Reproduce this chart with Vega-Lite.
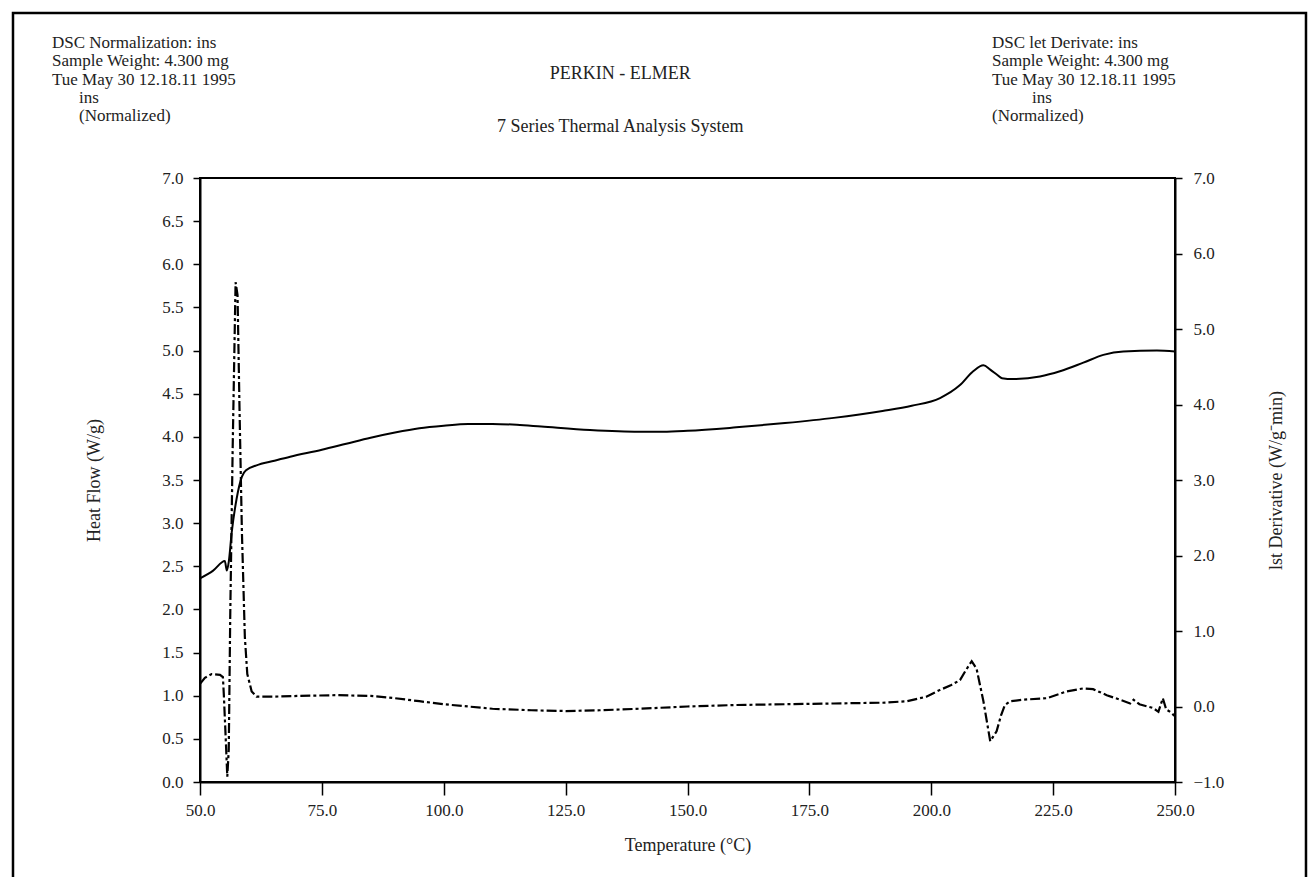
{
  "$schema": "https://vega.github.io/schema/vega-lite/v6.json",
  "width": 975,
  "height": 604,
  "autosize": {"type": "none"},
  "padding": {"left": 200, "top": 178, "right": 136, "bottom": 95},
  "background": "white",
  "config": {
    "view": {"stroke": "black", "strokeWidth": 2},
    "text": {"font": "Liberation Serif", "fontSize": 17, "color": "#222", "baseline": "middle"},
    "axis": {
      "labelFont": "Liberation Serif", "labelFontSize": 17, "labelColor": "#222",
      "titleFont": "Liberation Serif", "titleFontSize": 18, "titleFontWeight": "normal", "titleColor": "#222",
      "tickColor": "black", "domainColor": "black", "grid": false, "tickWidth": 1.5, "domainWidth": 2,
      "labelFlush": false, "labelOverlap": false
    }
  },
  "datasets": {
    "heat": [
      {"temperature": 50, "heat_flow": 2.36},
      {"temperature": 52.7, "heat_flow": 2.45},
      {"temperature": 55.1, "heat_flow": 2.56},
      {"temperature": 55.5, "heat_flow": 2.45},
      {"temperature": 55.9, "heat_flow": 2.55},
      {"temperature": 56.5, "heat_flow": 2.89},
      {"temperature": 57.5, "heat_flow": 3.28},
      {"temperature": 58.6, "heat_flow": 3.54},
      {"temperature": 59.6, "heat_flow": 3.62},
      {"temperature": 61.6, "heat_flow": 3.67},
      {"temperature": 65, "heat_flow": 3.72},
      {"temperature": 68.5, "heat_flow": 3.77},
      {"temperature": 75, "heat_flow": 3.85},
      {"temperature": 80, "heat_flow": 3.92},
      {"temperature": 85, "heat_flow": 3.99},
      {"temperature": 90, "heat_flow": 4.05},
      {"temperature": 95, "heat_flow": 4.1},
      {"temperature": 100, "heat_flow": 4.13},
      {"temperature": 105, "heat_flow": 4.15},
      {"temperature": 110, "heat_flow": 4.15},
      {"temperature": 115, "heat_flow": 4.14},
      {"temperature": 120, "heat_flow": 4.12},
      {"temperature": 130, "heat_flow": 4.08},
      {"temperature": 140, "heat_flow": 4.06},
      {"temperature": 145, "heat_flow": 4.06},
      {"temperature": 150, "heat_flow": 4.07},
      {"temperature": 160, "heat_flow": 4.11},
      {"temperature": 170, "heat_flow": 4.16},
      {"temperature": 180, "heat_flow": 4.22},
      {"temperature": 190, "heat_flow": 4.3},
      {"temperature": 196, "heat_flow": 4.36},
      {"temperature": 201.8, "heat_flow": 4.45},
      {"temperature": 205.9, "heat_flow": 4.6},
      {"temperature": 208.6, "heat_flow": 4.76},
      {"temperature": 210.7, "heat_flow": 4.83},
      {"temperature": 212.1, "heat_flow": 4.78},
      {"temperature": 213.5, "heat_flow": 4.72},
      {"temperature": 214.5, "heat_flow": 4.68},
      {"temperature": 216.8, "heat_flow": 4.67},
      {"temperature": 222.3, "heat_flow": 4.7},
      {"temperature": 226.4, "heat_flow": 4.76},
      {"temperature": 231.2, "heat_flow": 4.86},
      {"temperature": 235.3, "heat_flow": 4.95},
      {"temperature": 239.4, "heat_flow": 4.99},
      {"temperature": 246.3, "heat_flow": 5.0},
      {"temperature": 250, "heat_flow": 4.99}
    ],
    "deriv": [
      {"temperature": 50, "derivative": 0.3},
      {"temperature": 51, "derivative": 0.38},
      {"temperature": 52.4, "derivative": 0.43},
      {"temperature": 54.1, "derivative": 0.42},
      {"temperature": 54.7, "derivative": 0.39},
      {"temperature": 54.9, "derivative": 0.14},
      {"temperature": 55.3, "derivative": -0.46},
      {"temperature": 55.6, "derivative": -0.93},
      {"temperature": 55.9, "derivative": -0.57},
      {"temperature": 56.2, "derivative": 1.19},
      {"temperature": 56.7, "derivative": 3.41},
      {"temperature": 57.3, "derivative": 5.62},
      {"temperature": 57.7, "derivative": 5.45},
      {"temperature": 58.1, "derivative": 3.96},
      {"temperature": 58.6, "derivative": 2.3},
      {"temperature": 59.2, "derivative": 0.92},
      {"temperature": 59.7, "derivative": 0.43},
      {"temperature": 60.6, "derivative": 0.2},
      {"temperature": 61.6, "derivative": 0.13},
      {"temperature": 65, "derivative": 0.13},
      {"temperature": 70, "derivative": 0.14},
      {"temperature": 78, "derivative": 0.15},
      {"temperature": 85, "derivative": 0.14},
      {"temperature": 90, "derivative": 0.11},
      {"temperature": 95, "derivative": 0.07},
      {"temperature": 100, "derivative": 0.03},
      {"temperature": 105, "derivative": 0.0},
      {"temperature": 110, "derivative": -0.03},
      {"temperature": 118, "derivative": -0.05},
      {"temperature": 125, "derivative": -0.06},
      {"temperature": 132, "derivative": -0.05},
      {"temperature": 140, "derivative": -0.03},
      {"temperature": 150, "derivative": 0.0},
      {"temperature": 160, "derivative": 0.02},
      {"temperature": 170, "derivative": 0.03},
      {"temperature": 180, "derivative": 0.04},
      {"temperature": 190, "derivative": 0.05},
      {"temperature": 195, "derivative": 0.07},
      {"temperature": 199, "derivative": 0.13},
      {"temperature": 201.8, "derivative": 0.22},
      {"temperature": 204, "derivative": 0.28},
      {"temperature": 205.9, "derivative": 0.35},
      {"temperature": 207, "derivative": 0.47},
      {"temperature": 208.3, "derivative": 0.6},
      {"temperature": 209.3, "derivative": 0.5},
      {"temperature": 210.7, "derivative": 0.07},
      {"temperature": 212.1, "derivative": -0.46},
      {"temperature": 213.4, "derivative": -0.33},
      {"temperature": 214.3, "derivative": -0.12},
      {"temperature": 215.1, "derivative": 0.02},
      {"temperature": 216.2, "derivative": 0.07},
      {"temperature": 218.9, "derivative": 0.09},
      {"temperature": 223.7, "derivative": 0.11},
      {"temperature": 227.8, "derivative": 0.2},
      {"temperature": 231.2, "derivative": 0.24},
      {"temperature": 233.2, "derivative": 0.23},
      {"temperature": 236, "derivative": 0.15},
      {"temperature": 238.7, "derivative": 0.09},
      {"temperature": 240.8, "derivative": 0.04},
      {"temperature": 241.5, "derivative": 0.09},
      {"temperature": 242.7, "derivative": 0.03},
      {"temperature": 245.5, "derivative": -0.02},
      {"temperature": 246.6, "derivative": -0.07},
      {"temperature": 247.5, "derivative": 0.11},
      {"temperature": 248.2, "derivative": -0.04},
      {"temperature": 249, "derivative": -0.07},
      {"temperature": 250, "derivative": -0.13}
    ]
  },
  "layer": [
    {
      "layer": [
        {
          "data": {"name": "heat"},
          "mark": {"type": "line", "color": "black", "strokeWidth": 2, "interpolate": "monotone"},
          "encoding": {
            "x": {
              "field": "temperature", "type": "quantitative",
              "scale": {"domain": [50, 250], "nice": false, "zero": false},
              "axis": {"title": "Temperature (°C)", "values": [50, 75, 100, 125, 150, 175, 200, 225, 250], "format": ".1f", "tickSize": 13, "labelPadding": 7, "titlePadding": 18}
            },
            "y": {
              "field": "heat_flow", "type": "quantitative",
              "scale": {"domain": [0, 7], "nice": false, "zero": false},
              "axis": {"title": "Heat Flow (W/g)", "values": [0, 0.5, 1, 1.5, 2, 2.5, 3, 3.5, 4, 4.5, 5, 5.5, 6, 6.5, 7], "format": ".1f", "tickSize": 7, "labelPadding": 10, "titlePadding": 58}
            }
          }
        },
        {
          "data": {"values": [{}]},
          "mark": {"type": "rect", "filled": false, "stroke": "black", "strokeWidth": 2.5},
          "encoding": {"x": {"datum": 11.64}, "x2": {"datum": 276.87}, "y": {"datum": 8.912}, "y2": {"datum": -1.4}}
        },
        {
          "data": {"values": [{}]},
          "mark": {"type": "text", "text": "DSC Normalization: ins", "align": "left"},
          "encoding": {"x": {"datum": 19.64}, "y": {"datum": 8.564}}
        },
        {
          "data": {"values": [{}]},
          "mark": {"type": "text", "text": "Sample Weight: 4.300 mg", "align": "left"},
          "encoding": {"x": {"datum": 19.64}, "y": {"datum": 8.352}}
        },
        {
          "data": {"values": [{}]},
          "mark": {"type": "text", "text": "Tue May 30 12.18.11 1995", "align": "left"},
          "encoding": {"x": {"datum": 19.64}, "y": {"datum": 8.14}}
        },
        {
          "data": {"values": [{}]},
          "mark": {"type": "text", "text": "ins", "align": "left"},
          "encoding": {"x": {"datum": 25.18}, "y": {"datum": 7.928}}
        },
        {
          "data": {"values": [{}]},
          "mark": {"type": "text", "text": "(Normalized)", "align": "left"},
          "encoding": {"x": {"datum": 25.18}, "y": {"datum": 7.716}}
        },
        {
          "data": {"values": [{}]},
          "mark": {"type": "text", "text": "PERKIN - ELMER", "align": "center", "fontSize": 18},
          "encoding": {"x": {"datum": 136.2}, "y": {"datum": 8.2}}
        },
        {
          "data": {"values": [{}]},
          "mark": {"type": "text", "text": "7 Series Thermal Analysis System", "align": "center", "fontSize": 18},
          "encoding": {"x": {"datum": 136.2}, "y": {"datum": 7.59}}
        },
        {
          "data": {"values": [{}]},
          "mark": {"type": "text", "text": "DSC let Derivate: ins", "align": "left"},
          "encoding": {"x": {"datum": 212.46}, "y": {"datum": 8.564}}
        },
        {
          "data": {"values": [{}]},
          "mark": {"type": "text", "text": "Sample Weight: 4.300 mg", "align": "left"},
          "encoding": {"x": {"datum": 212.46}, "y": {"datum": 8.352}}
        },
        {
          "data": {"values": [{}]},
          "mark": {"type": "text", "text": "Tue May 30 12.18.11 1995", "align": "left"},
          "encoding": {"x": {"datum": 212.46}, "y": {"datum": 8.14}}
        },
        {
          "data": {"values": [{}]},
          "mark": {"type": "text", "text": "ins", "align": "left"},
          "encoding": {"x": {"datum": 220.67}, "y": {"datum": 7.928}}
        },
        {
          "data": {"values": [{}]},
          "mark": {"type": "text", "text": "(Normalized)", "align": "left"},
          "encoding": {"x": {"datum": 212.46}, "y": {"datum": 7.716}}
        }
      ]
    },
    {
      "data": {"name": "deriv"},
      "mark": {"type": "line", "color": "black", "strokeWidth": 2.2, "strokeDash": [10, 3, 3, 3]},
      "encoding": {
        "x": {"field": "temperature", "type": "quantitative", "title": "Temperature (°C)"},
        "y": {
          "field": "derivative", "type": "quantitative",
          "scale": {"domain": [-1, 7], "nice": false, "zero": false},
          "axis": {"orient": "right", "title": "lst Derivative (W/g⁻min)", "values": [-1, 0, 1, 2, 3, 4, 5, 6, 7], "format": ".1f", "tickSize": 7, "labelPadding": 11, "titlePadding": 44, "titleAngle": 270, "titleBaseline": "top"}
        }
      }
    }
  ],
  "resolve": {"scale": {"y": "independent"}}
}
